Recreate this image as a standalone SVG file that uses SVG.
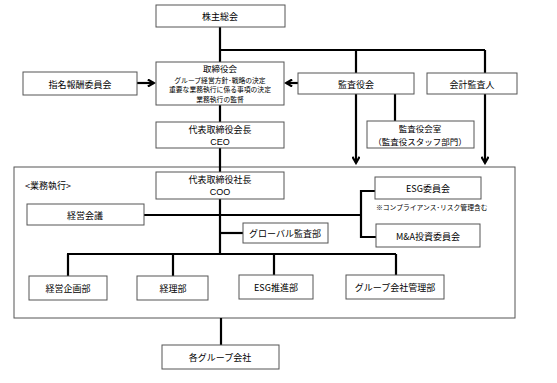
<svg xmlns="http://www.w3.org/2000/svg" width="557" height="383" viewBox="0 0 557 383">
<style>
.box{fill:#fff;stroke:#555;stroke-width:1}
.frame{fill:none;stroke:#555;stroke-width:1}
.ln{fill:none;stroke:#000;stroke-width:2.2}
text{font-family:"Noto Sans CJK JP","Noto Sans",sans-serif;font-size:9px;fill:#000;text-anchor:middle;dominant-baseline:central}
.s{font-size:6.8px}
.t{font-size:8.5px}
.en{font-family:"Liberation Sans",Arial,sans-serif;font-size:9px}
.l{text-anchor:start}
</style>
<defs>
<marker id="ar" viewBox="0 0 10 10" refX="8" refY="5" markerWidth="4" markerHeight="4" orient="auto" markerUnits="strokeWidth">
<polyline points="1,1 8,5 1,9" fill="none" stroke="#000" stroke-width="2.4"/>
</marker>
</defs>
<rect class="frame" x="14" y="167" width="501" height="151"/>
<text class="l" x="25" y="185">&lt;業務執行&gt;</text>
<g id="connectors">
<path class="ln" d="M220,27 V62 M220,50 H485 M356,50 V73 M485,50 V73"/>
<path class="ln" d="M220,105 V122 M220,148 V172 M220,199 V254"/>
<path class="ln" d="M137,83 H154" marker-end="url(#ar)"/>
<path class="ln" d="M298,83 H286" marker-end="url(#ar)"/>
<path class="ln" d="M356,94 V163" marker-end="url(#ar)"/>
<path class="ln" d="M485,94 V163" marker-end="url(#ar)"/>
<path class="ln" d="M395,94 V121"/>
<path class="ln" d="M144,215 H361 M375,191 H361 V237 H376"/>
<path class="ln" d="M220,233 H243"/>
<path class="ln" d="M67,254 H396 M68,254 V276 M173,254 V276 M274,254 V275 M396,254 V275"/>
<path class="ln" d="M221,318 V345"/>
</g>
<g id="kabunushi"><rect class="box" x="156" y="5" width="129" height="22"/><text x="220" y="16">株主総会</text></g>
<g id="torishimariyakukai"><rect class="box" x="156" y="62" width="128" height="43"/>
<text class="t" x="220" y="68.3">取締役会</text>
<text class="s" x="220" y="79.5">グループ経営方針･戦略の決定</text>
<text class="s" x="220" y="89.4">重要な業務執行に係る事項の決定</text>
<text class="s" x="220" y="99.3">業務執行の監督</text></g>
<g id="shimei"><rect class="box" x="23" y="72" width="114" height="23"/><text x="80" y="84">指名報酬委員会</text></g>
<g id="kansayakukai"><rect class="box" x="298" y="73" width="116" height="21"/><text x="356" y="84">監査役会</text></g>
<g id="kaikei"><rect class="box" x="427" y="73" width="90" height="21"/><text x="472" y="84">会計監査人</text></g>
<g id="ceo"><rect class="box" x="156" y="122" width="128" height="26"/><text x="220" y="129.5">代表取締役会長</text><text class="en" x="220" y="142">CEO</text></g>
<g id="kansashitsu"><rect class="box" x="367" y="121" width="107" height="27"/><text class="t" x="420" y="128.2">監査役会室</text><text class="t" x="420" y="140.8">（監査役スタッフ部門）</text></g>
<g id="coo"><rect class="box" x="156" y="172" width="128" height="27"/><text x="220" y="179.5">代表取締役社長</text><text class="en" x="220" y="191.8">COO</text></g>
<g id="keieikaigi"><rect class="box" x="27" y="204" width="117" height="21"/><text x="85" y="215">経営会議</text></g>
<g id="esgiinkai"><rect class="box" x="375" y="177" width="106" height="22"/><text x="428" y="188">ESG委員会</text></g>
<text class="s l" x="376" y="207">※コンプライアンス･リスク管理含む</text>
<g id="ma"><rect class="box" x="376" y="224" width="104" height="23"/><text x="428" y="236">M&amp;A投資委員会</text></g>
<g id="global"><rect class="box" x="243" y="223" width="85" height="20"/><text x="285" y="233">グローバル監査部</text></g>
<g id="kikaku"><rect class="box" x="29" y="276" width="78" height="24"/><text x="68" y="288">経営企画部</text></g>
<g id="keiri"><rect class="box" x="137" y="276" width="71" height="24"/><text x="173" y="288">経理部</text></g>
<g id="esgsuishin"><rect class="box" x="239" y="275" width="74" height="24"/><text x="276" y="287">ESG推進部</text></g>
<g id="groupkanri"><rect class="box" x="346" y="275" width="98" height="24"/><text x="395" y="287">グループ会社管理部</text></g>
<g id="kakugroup"><rect class="box" x="162" y="345" width="117" height="24"/><text x="220" y="357">各グループ会社</text></g>
</svg>
